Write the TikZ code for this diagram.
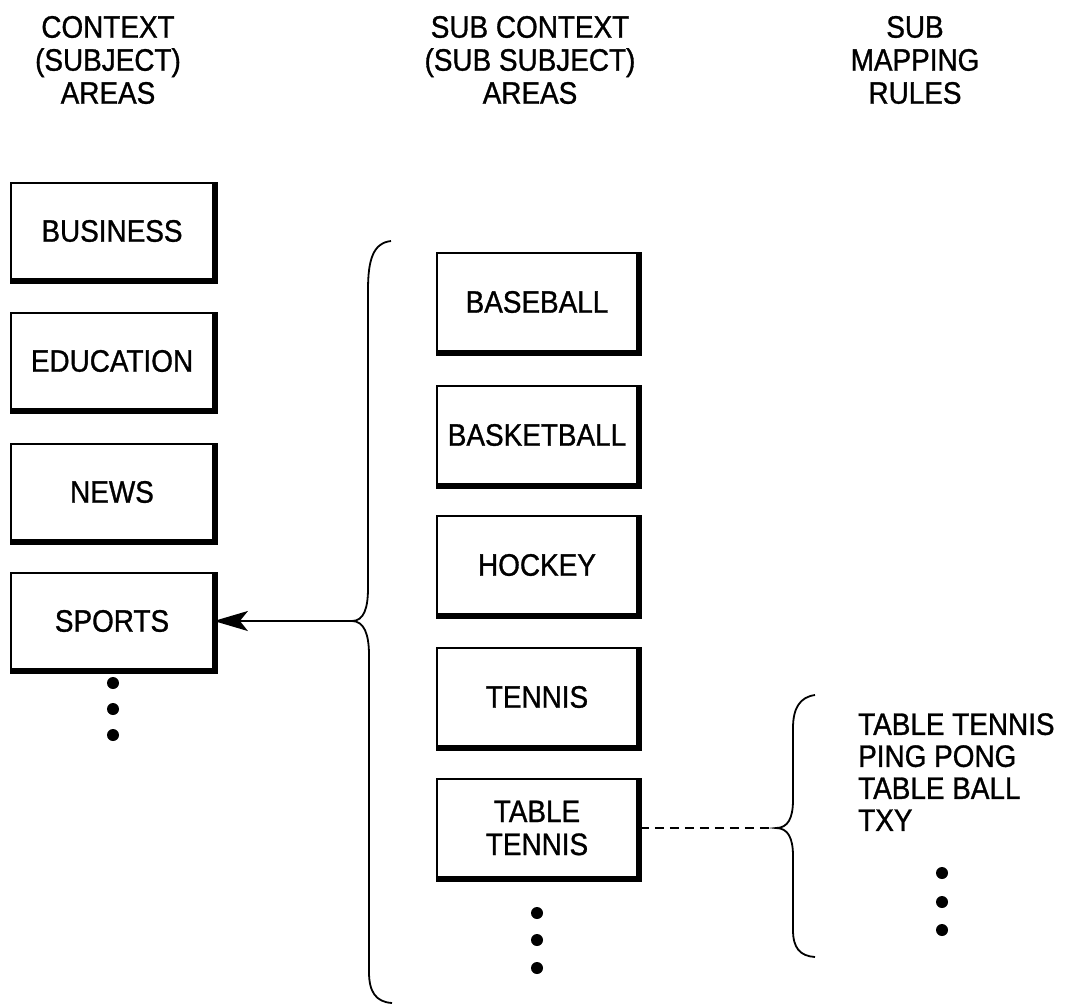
\documentclass[tikz,border=0pt]{standalone}
\usepackage{fontspec}
\setmainfont{Liberation Sans}[FakeStretch=0.9, FakeBold=1]
\usetikzlibrary{arrows.meta}
\tikzset{
  x=1pt, y=-1pt,
  lbl/.style={font=\fontsize{31}{33}\selectfont, align=center, inner sep=0pt},
  cbox/.style={draw, line width=1.8pt, minimum width=202pt, minimum height=96pt,
    inner sep=0pt, font=\fontsize{31}{33}\selectfont, align=center},
  shadowline/.style={line width=4.5pt},
  brace/.style={line width=1.8pt},
  dotmark/.style={fill=black},
}
\begin{document}
\begin{tikzpicture}
\useasboundingbox (0,0) rectangle (1067,1005);
% headers
\node[lbl] (h1) at (108,60) {CONTEXT\\(SUBJECT)\\AREAS};
\node[lbl] (h2) at (530,60) {SUB CONTEXT\\(SUB SUBJECT)\\AREAS};
\node[lbl] (h3) at (915,60) {SUB\\MAPPING\\RULES};
% left column
\node[cbox] (business) at (112,231) {BUSINESS};
\node[cbox] (education) at (112,361) {EDUCATION};
\node[cbox] (news) at (112,492) {NEWS};
\node[cbox] (sports) at (112,621) {SPORTS};
% middle column
\node[cbox, minimum width=200pt, minimum height=98pt] (baseball) at (537,302) {BASEBALL};
\node[cbox, minimum width=200pt, minimum height=98pt] (basketball) at (537,435) {BASKETBALL};
\node[cbox, minimum width=200pt, minimum height=98pt] (hockey) at (537,565) {HOCKEY};
\node[cbox, minimum width=200pt, minimum height=98pt] (tennis) at (537,697) {TENNIS};
\node[cbox, minimum width=200pt, minimum height=98pt] (tabletennis) at (537,828) {TABLE\\TENNIS};
% shadows on right and bottom edges
\foreach \n in {business,education,news,sports,baseball,basketball,hockey,tennis,tabletennis}{
  \draw[shadowline] ([shift={(0,1.6)}]\n.south west) -- ([shift={(1.6,1.6)}]\n.south east) -- ([shift={(1.6,0)}]\n.north east);
}
% dots
\foreach \yy in {683,709,735} \fill[dotmark] (113,\yy) circle (6);
\foreach \yy in {913,940,968} \fill[dotmark] (537,\yy) circle (6);
\foreach \yy in {873,902,930} \fill[dotmark] (942,\yy) circle (6);
% big brace
\coordinate (bt) at (352,621);
\draw[brace] (391,241) .. controls (373,243) and (368,260) .. (368,290) -- (368,588)
  .. controls (368,608) and (364,621) .. (bt)
  .. controls (364,621) and (369,634) .. (369,655) -- (369,972)
  .. controls (369,992) and (376,1002) .. (392,1003);
\draw[line width=1.5pt, -{Stealth[length=34pt, width=20pt, inset=8pt]}] (bt) -- (sports.east);
% small brace
\coordinate (st) at (776,828);
\draw[brace] (815,695) .. controls (800,697) and (793,708) .. (793,728) -- (793,800)
  .. controls (793,818) and (788,828) .. (st)
  .. controls (788,828) and (793,838) .. (793,856) -- (793,930)
  .. controls (793,948) and (800,956) .. (815,957);
\draw[line width=1.5pt, dash pattern=on 9pt off 6pt] ([xshift=2pt]tabletennis.east) -- (st);
% mapping rules list
\node[anchor=north west, inner sep=0pt, align=left, font=\fontsize{31}{32}\selectfont] (rules) at (858,713)
  {TABLE TENNIS\\PING PONG\\TABLE BALL\\TXY};
\end{tikzpicture}
\end{document}
